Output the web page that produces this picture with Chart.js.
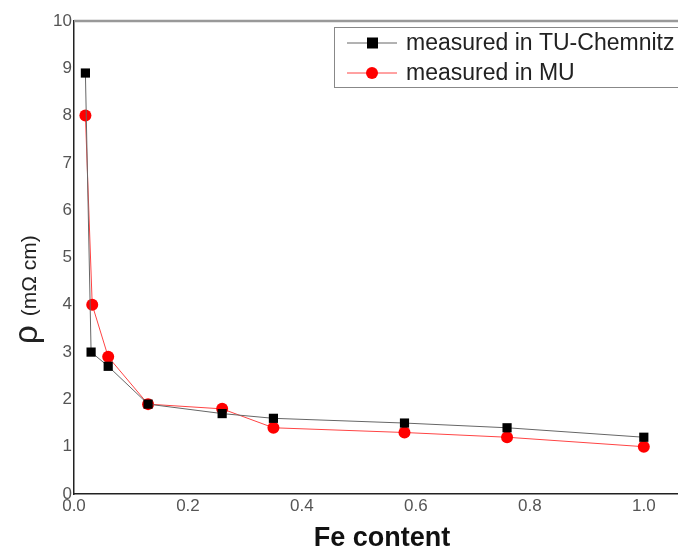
<!DOCTYPE html>
<html>
<head>
<meta charset="utf-8">
<script src="https://cdn.jsdelivr.net/npm/chart.js@4/dist/chart.umd.min.js"></script>
<style>
  html, body { margin: 0; padding: 0; background: #fff; }
  #wrap { width: 678px; height: 549px; }
</style>
</head>
<body>
<div id="wrap"><canvas id="rhoChart"></canvas></div>
<script>
// ------------------- Data -------------------
const feContent = [0.02, 0.03, 0.06, 0.13, 0.26, 0.35, 0.58, 0.76, 1.0];
const rhoChemnitz = [8.9, 3.0, 2.7, 1.9, 1.7, 1.6, 1.5, 1.4, 1.2];
const feContentMU = [0.02, 0.032, 0.06, 0.13, 0.26, 0.35, 0.58, 0.76, 1.0];
const rhoMU = [8.0, 4.0, 2.9, 1.9, 1.8, 1.4, 1.3, 1.2, 1.0];
const xTicks = [0.0, 0.2, 0.4, 0.6, 0.8, 1.0];
const yTicks = [0, 1, 2, 3, 4, 5, 6, 7, 8, 9, 10];

const toPoints = (xs, ys) => xs.map((x, i) => ({ x: x, y: ys[i] }));
const FONT = '"Liberation Sans", Arial, sans-serif';

// ------------------- Plugins -------------------
// top frame line, axis titles, legend box inside the plot
const framePlugin = {
    id: 'frame',
    afterDraw(chart) {
        const { ctx, chartArea } = chart;
        ctx.save();

        // top frame line
        ctx.strokeStyle = '#999';
        ctx.lineWidth = 2.5;
        ctx.beginPath();
        ctx.moveTo(chartArea.left, chartArea.top);
        ctx.lineTo(chart.width, chartArea.top);
        ctx.stroke();

        // x axis title
        ctx.fillStyle = '#111';
        ctx.font = 'bold 27px ' + FONT;
        ctx.textAlign = 'center';
        ctx.textBaseline = 'alphabetic';
        ctx.fillText('Fe content', 382, 546);

        // y axis title: big rho, smaller unit
        ctx.fillStyle = '#222';
        ctx.translate(37, 344);
        ctx.rotate(-Math.PI / 2);
        ctx.textAlign = 'left';
        ctx.font = '33px ' + FONT;
        ctx.fillText('ρ', 0, 0);
        const rhoW = ctx.measureText('ρ').width;
        ctx.font = '21px ' + FONT;
        ctx.fillText('(mΩ cm)', rhoW + 9, -1);
        ctx.restore();

        // legend
        ctx.save();
        ctx.strokeStyle = '#888';
        ctx.lineWidth = 1;
        ctx.strokeRect(334.5, 27.5, 400, 60);
        ctx.font = '23px ' + FONT;
        ctx.textBaseline = 'middle';
        chart.data.datasets.forEach((ds, i) => {
            const y = 43 + i * 30;
            ctx.strokeStyle = ds.borderColor;
            ctx.lineWidth = 1;
            ctx.beginPath();
            ctx.moveTo(347, y);
            ctx.lineTo(397, y);
            ctx.stroke();
            ctx.fillStyle = ds.pointBackgroundColor;
            if (ds.pointStyle === 'rect') {
                ctx.fillRect(367, y - 5.5, 11, 11);
            } else {
                ctx.beginPath();
                ctx.arc(372, y, 6, 0, Math.PI * 2);
                ctx.fill();
            }
            ctx.fillStyle = '#222';
            ctx.fillText(ds.label, 406, y + 1);
        });
        ctx.restore();
    }
};

// ------------------- Chart -------------------
function initRhoChart() {
    const ctx = document.getElementById('rhoChart');
    if (!ctx) return;

    new Chart(ctx.getContext('2d'), {
        type: 'scatter',
        data: {
            datasets: [
                {
                    label: 'measured in TU-Chemnitz',
                    data: toPoints(feContent, rhoChemnitz),
                    showLine: true,
                    borderColor: '#666',
                    borderWidth: 1,
                    pointStyle: 'rect',
                    pointRadius: 6.5,
                    pointBackgroundColor: '#000',
                    pointBorderColor: '#000',
                    pointBorderWidth: 0
                },
                {
                    label: 'measured in MU',
                    data: toPoints(feContentMU, rhoMU),
                    showLine: true,
                    borderColor: '#f44',
                    borderWidth: 1,
                    pointStyle: 'circle',
                    pointRadius: 6,
                    pointBackgroundColor: '#f00',
                    pointBorderColor: '#f00',
                    pointBorderWidth: 0
                }
            ]
        },
        options: {
            responsive: true,
            maintainAspectRatio: false,
            animation: false,
            layout: { autoPadding: false, padding: { top: 21, right: 0, left: 0, bottom: 0 } },
            plugins: {
                legend: { display: false },
                tooltip: { enabled: false }
            },
            scales: {
                x: {
                    type: 'linear',
                    min: 0,
                    max: 1.06,
                    afterFit: (scale) => {
                        scale.height = 55;
                        scale.paddingLeft = 0;
                        scale.paddingRight = 0;
                    },
                    afterBuildTicks: (scale) => { scale.ticks = xTicks.map(v => ({ value: v })); },
                    grid: { display: false, drawTicks: false },
                    border: { color: '#222', width: 1.5 },
                    ticks: {
                        padding: 2,
                        color: '#555',
                        font: { family: FONT, size: 17 },
                        callback: (v) => Number(v).toFixed(1)
                    }
                },
                y: {
                    type: 'linear',
                    min: 0,
                    max: 10,
                    afterFit: (scale) => { scale.width = 74; },
                    afterBuildTicks: (scale) => { scale.ticks = yTicks.map(v => ({ value: v })); },
                    grid: { display: false, drawTicks: false },
                    border: { color: '#222', width: 1.5 },
                    ticks: {
                        padding: 2,
                        color: '#555',
                        font: { family: FONT, size: 17 }
                    }
                }
            }
        },
        plugins: [framePlugin]
    });
}

// ------------------- Initialize -------------------
document.addEventListener('DOMContentLoaded', () => {
    initRhoChart();
});
</script>
</body>
</html>
